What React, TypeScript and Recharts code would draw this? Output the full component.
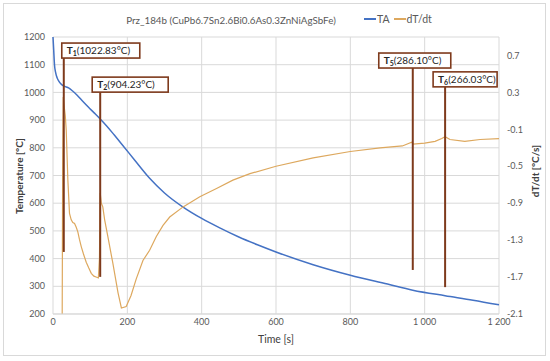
import React from 'react';
import {
  ComposedChart,
  Line,
  XAxis,
  YAxis,
  CartesianGrid,
  ReferenceLine,
} from 'recharts';

// ============================================================================
// Data
// ============================================================================

const TIME_TICKS = [0, 200, 400, 600, 800, 1000, 1200];
const TEMP_TICKS = [200, 300, 400, 500, 600, 700, 800, 900, 1000, 1100, 1200];
const RATE_TICKS = [-2.1, -1.7, -1.3, -0.9, -0.5, -0.1, 0.3, 0.7];

// TA curve - temperature [°C] vs time [s]
const taTime = [0, 2, 4, 7, 11, 16, 21, 26, 33, 42, 52, 65, 80, 95, 110, 127, 145, 165, 190, 220, 260, 300, 350, 400, 450, 500, 550, 600, 700, 800, 900, 968, 1055, 1130, 1200];
const taTemp = [1200, 1150, 1100, 1072, 1053, 1040, 1031, 1025, 1021, 1016, 1006, 990, 968, 947, 927, 904, 878, 846, 805, 755, 690, 637, 586, 545, 510, 478, 450, 424, 378, 340, 308, 286, 266, 250, 233];

// dT/dt curve - cooling rate [°C/s] vs time [s]
const rateTime = [0, 22, 24.5, 26, 27.5, 30, 33, 35.6, 40, 44.4, 49, 53.3, 58, 62.5, 66.8, 71, 76, 82, 89.4, 96, 103, 110, 116, 122, 125, 127, 130, 134, 139, 148, 161, 175, 184, 197, 210, 224, 242, 260, 278, 296, 314, 350, 395, 440, 484, 530, 600, 700, 800, 880, 940, 965, 969, 1000, 1028, 1046, 1055, 1068, 1108, 1149, 1200];
const rateValue = [-6, -4, -2.4, -0.5, 0.25, 0.15, 0.05, -0.11, -0.65, -1.01, -1.08, -1.11, -1.12, -1.16, -1.21, -1.29, -1.37, -1.45, -1.54, -1.6, -1.66, -1.69, -1.7, -1.71, -1.5, -0.79, -0.9, -0.94, -1.08, -1.27, -1.55, -1.87, -2.035, -2.02, -1.9, -1.72, -1.52, -1.41, -1.26, -1.14, -1.05, -0.94, -0.83, -0.74, -0.65, -0.58, -0.5, -0.41, -0.34, -0.3, -0.28, -0.24, -0.26, -0.25, -0.23, -0.2, -0.18, -0.21, -0.23, -0.21, -0.2];

// Characteristic points: label, time, line top / bottom (on temperature axis)
const markerNames = ['1', '2', '5', '6'];
const markerText = ['(1022.83°C)', '(904.23°C)', '(286.10°C)', '(266.03°C)'];
const markerTime = [29, 127, 968, 1055];
const markerTop = [1124, 1001, 1088, 1020];
const markerBottom = [424, 334, 359, 297];
const markerBoxShift = [-2, -8, -34, -12];
const markerBoxWidth = [78, 76, 72, 64];

const seriesNames = ['TA', 'dT/dt'];

const taData = taTime.map((t, i) => ({ t, T: taTemp[i] }));
const rateData = rateTime.map((t, i) => ({ t, r: rateValue[i] }));

const BLUE = '#4472C4';
const TAN = '#DDA85E';
const BROWN = '#7E3A1C';
const GRID = '#D9D9D9';
const TEXT = '#595959';
const FONT = 'Lato, "Liberation Sans", sans-serif';

// ============================================================================
// Helpers
// ============================================================================

const formatTime = (v: number) => (v >= 1000 ? `${Math.floor(v / 1000)} ${String(v % 1000).padStart(3, '0')}` : String(v));

// eslint-disable-next-line @typescript-eslint/no-explicit-any
const MarkerBox = ({ viewBox, sub, text, shift, width }: any) => {
  if (!viewBox) return null;
  const h = 15;
  const x = viewBox.x + shift;
  const y = viewBox.y - h;
  return (
    <g>
      <rect x={x} y={y} width={width} height={h} fill="#fff" stroke={BROWN} strokeWidth={1.6} />
      <text x={x + 5} y={y + 11} fontSize={10} fill="#262626" fontFamily={FONT}>
        <tspan fontWeight="bold">T</tspan>
        <tspan fontSize={7} fontWeight="bold" dy={2}>{sub}</tspan>
        <tspan dy={-2}>{text}</tspan>
      </text>
    </g>
  );
};

const abs = (left: number, top: number, extra: React.CSSProperties = {}): React.CSSProperties => ({
  position: 'absolute',
  left,
  top,
  whiteSpace: 'nowrap',
  ...extra,
});

// ============================================================================
// Component
// ============================================================================

export default function App() {
  const tick = { fontSize: 9, fill: TEXT, fontFamily: FONT };
  const legendColors = [BLUE, TAN];

  return (
    <div style={{ position: 'relative', width: 550, height: 361, background: '#fff', fontFamily: FONT }}>
      <style>{'body{margin:0}'}</style>
      <div
        style={{
          position: 'absolute',
          left: 3,
          top: 3,
          width: 543,
          height: 353,
          border: `1px solid ${GRID}`,
          boxSizing: 'border-box',
        }}
      />

      <div style={{ position: 'absolute', left: 0, top: 0 }}>
        <ComposedChart width={550} height={361} margin={{ top: 37, right: 0, bottom: 0, left: 0 }}>
          <CartesianGrid yAxisId="left" stroke={GRID} strokeWidth={1} />
          <XAxis
            type="number"
            dataKey="t"
            domain={[0, 1200]}
            ticks={TIME_TICKS}
            interval={0}
            tickFormatter={formatTime}
            tick={tick}
            tickLine={false}
            tickSize={3}
            stroke={GRID}
            height={47}
          />
          <YAxis
            yAxisId="left"
            type="number"
            domain={[200, 1200]}
            ticks={TEMP_TICKS}
            interval={0}
            tick={tick}
            tickLine={false}
            axisLine={false}
            width={53}
          />
          <YAxis
            yAxisId="right"
            orientation="right"
            type="number"
            domain={[-2.1, 0.9]}
            ticks={RATE_TICKS}
            interval={0}
            allowDataOverflow
            tickFormatter={(v: number) => v.toFixed(1)}
            tick={tick}
            tickLine={false}
            axisLine={false}
            width={51}
          />
          <Line
            yAxisId="left"
            data={taData}
            dataKey="T"
            name={seriesNames[0]}
            type="monotone"
            stroke={BLUE}
            strokeWidth={1.5}
            dot={false}
            isAnimationActive={false}
          />
          <Line
            yAxisId="right"
            data={rateData}
            dataKey="r"
            name={seriesNames[1]}
            type="linear"
            stroke={TAN}
            strokeWidth={1.2}
            dot={false}
            isAnimationActive={false}
          />
          {markerNames.map((name, i) => (
            <ReferenceLine
              key={name}
              yAxisId="left"
              segment={[
                { x: markerTime[i], y: markerTop[i] },
                { x: markerTime[i], y: markerBottom[i] },
              ]}
              stroke={BROWN}
              strokeWidth={2}
              label={
                <MarkerBox
                  sub={name}
                  text={markerText[i]}
                  shift={markerBoxShift[i]}
                  width={markerBoxWidth[i]}
                />
              }
            />
          ))}
        </ComposedChart>
      </div>

      {/* Title */}
      <div style={abs(100, 14, { width: 262, textAlign: 'center', fontSize: 9.8, color: TEXT })}>
        Prz_184b (CuPb6.7Sn2.6Bi0.6As0.3ZnNiAgSbFe)
      </div>

      {/* Legend */}
      <div style={abs(364, 13, { display: 'flex', fontSize: 10.5, color: TEXT })}>
        {seriesNames.map((name, i) => (
          <div key={name} style={{ display: 'flex', alignItems: 'center', marginRight: 4 }}>
            <span style={{ display: 'inline-block', width: 12, height: 1.5, background: legendColors[i], marginRight: 1 }} />
            <span>{name}</span>
          </div>
        ))}
      </div>

      {/* Axis titles */}
      <div style={abs(19, 176, { transform: 'translate(-50%, -50%) rotate(-90deg)', fontSize: 10, fontWeight: 'bold', color: '#404040' })}>
        Temperature [°C]
      </div>
      <div style={abs(535, 171, { transform: 'translate(-50%, -50%) rotate(-90deg)', fontSize: 10, fontWeight: 'bold', color: '#404040' })}>
        dT/dt [°C/s]
      </div>
      <div style={abs(276, 339, { transform: 'translate(-50%, -50%)', fontSize: 10.5, color: '#404040' })}>
        Time [s]
      </div>
    </div>
  );
}
